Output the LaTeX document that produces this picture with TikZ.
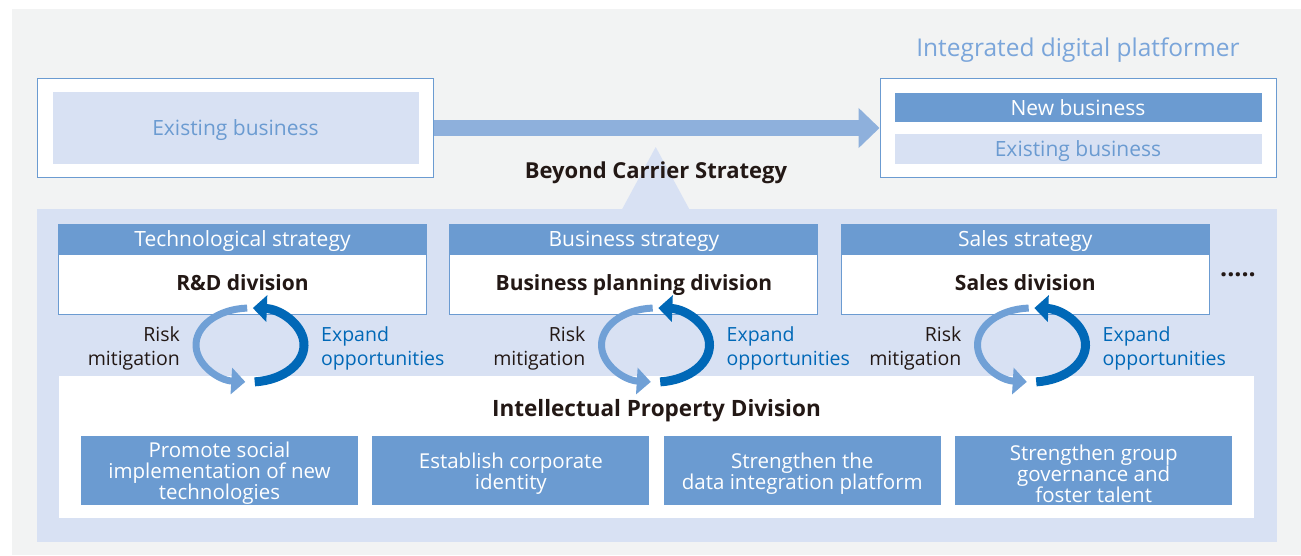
\documentclass[tikz,border=0pt]{standalone}
\usepackage{fontspec}
\setmainfont{Open Sans}
\usepackage{xcolor}
\usepackage{tikz}
\usetikzlibrary{arrows.meta,positioning}
\definecolor{BGgray}{RGB}{242,243,243}
\definecolor{KDpale}{RGB}{216,225,243}
\definecolor{KDmid}{RGB}{107,155,209}
\definecolor{KDarrow}{RGB}{142,176,220}
\definecolor{KDdark}{RGB}{0,104,183}
\definecolor{KDcyc}{RGB}{112,160,214}
\definecolor{KDtext}{RGB}{35,24,21}
\definecolor{KDtitle}{RGB}{122,165,218}
\newcommand{\fsz}[2]{\fontsize{#1}{#2}\selectfont}
\newcommand{\gstrut}{\rule{0pt}{21.6pt}}
\tikzset{
  frame/.style={rectangle, draw=KDmid, line width=1pt, fill=white, inner sep=0pt,
                minimum width=396pt, minimum height=99pt},
  bar/.style={rectangle, fill=#1, inner sep=0pt, minimum width=367pt,
              text height=15pt, text depth=0pt, font=\fsz{21}{24}},
  hdr/.style={rectangle, fill=KDmid, text=white, inner sep=0pt,
              minimum width=369pt, minimum height=30pt,
              text height=15pt, text depth=0pt, font=\fsz{21}{24}},
  divbox/.style={rectangle, draw=KDmid, line width=1pt, fill=white, inner sep=0pt,
                 minimum width=368pt, minimum height=60pt,
                 text height=15pt, text depth=4pt,
                 font=\fsz{21}{24}\bfseries, text=KDtext},
  goal/.style={rectangle, fill=KDmid, text=white, inner sep=0pt,
               minimum width=277pt, minimum height=69pt, align=center,
               font=\fsz{20.5}{21}},
  side/.style={inner sep=0pt, font=\fsz{19.5}{24}},
  bigarr/.style={line width=16pt, draw=KDarrow, -{Triangle[length=21pt,width=39pt]}},
  cyc/.style={line width=#1, -{Triangle[length=14pt,width=26pt]}},
}

\begin{document}
\begin{tikzpicture}[x=1pt, y=-1pt, node distance=22pt]

  \fill[white] (0,0) rectangle (1301,555);
  \useasboundingbox (0,0) rectangle (1301,555);
  \fill[BGgray] (12,9) rectangle (1301,555);

  % today: existing business only
  \node[frame] (oldout) at (235.5,128) {};
  \node[bar=KDpale, minimum width=366pt, minimum height=72pt, text=KDmid] (oldbiz)
        at (oldout.center) {Existing business};

  % tomorrow: integrated digital platformer
  \node[frame] (newout) at (1078,128) {};
  \node[bar=KDmid, minimum height=29pt, text=white, below=15pt of newout.north] (newbiz)
        {New business};
  \node[bar=KDpale, minimum height=30pt, text=KDmid, below=11pt of newbiz] (curbiz)
        {Existing business};
  \node[font=\fsz{24.5}{28}, text=KDtitle, above=12pt of newout] (goal)
        {Integrated digital platformer};

  % transformation arrow
  \draw[bigarr] (oldout) -- (newout);

  % strategy panel with pointer
  \node[rectangle, fill=KDpale, inner sep=0pt, minimum width=1240pt, minimum height=333pt,
        anchor=north west] (panel) at (37,209) {};
  \fill[KDpale] ([xshift=-35pt]panel.north) -- ([shift={(-1.5pt,62pt)}]panel.north)
        -- ([xshift=32pt]panel.north) -- cycle;
  \node[font=\fsz{22}{26}\bfseries, text=KDtext, anchor=base] (bcs) at (656,178)
        {Beyond Carrier Strategy};

  % three strategies
  \node[hdr] (tech) at (242.5,239) {Technological strategy};
  \node[hdr, right=of tech] (biz) {Business strategy};
  \node[hdr, right=of biz] (sales) {Sales strategy};
  \node[divbox, below=0pt of tech] (rnd) {R\&D division};
  \node[divbox, below=0pt of biz] (bpd) {Business planning division};
  \node[divbox, below=0pt of sales] (sd) {Sales division};
  \node[font=\fsz{25}{25}\bfseries, text=KDtext, anchor=base] (more) at (1238,276) {.....};

  % IP division
  \node[rectangle, fill=white, inner sep=0pt, minimum width=1195pt, minimum height=142pt,
        anchor=north west] (ipd) at (59,376) {};
  \node[font=\fsz{22.5}{26}\bfseries, text=KDtext, anchor=base] (iptitle) at (656.5,416.7)
        {Intellectual Property Division};

  \node[goal] (g1) at (219.5,470.5) {\gstrut Promote social\\implementation of new\\technologies};
  \node[goal, right=14pt of g1] (g2) {\gstrut Establish corporate\\identity};
  \node[goal, right=14pt of g2] (g3) {\gstrut Strengthen the\\data integration platform};
  \node[goal, right=14pt of g3] (g4) {\gstrut Strengthen group\\governance and\\foster talent};

  % cycles
  \foreach \cx [count=\i] in {250,655.5,1031.5} {
    \coordinate (cyc\i) at (\cx,345);
    \draw[cyc=7pt, KDcyc] ([shift={(-93:54 and 37)}]cyc\i)
          arc[start angle=-93, end angle=-265, x radius=54, y radius=37];
    \draw[cyc=9pt, KDdark] ([shift={(85:54 and 37)}]cyc\i)
          arc[start angle=85, end angle=-87, x radius=54, y radius=37];
    \node[side, anchor=east, align=right, text=KDtext] (risk\i)
          at ([shift={(-70,3)}]cyc\i) {Risk\\mitigation};
    \node[side, anchor=west, align=left, text=KDdark] (expand\i)
          at ([shift={(71,3)}]cyc\i) {Expand\\opportunities};
  }
\end{tikzpicture}
\end{document}
